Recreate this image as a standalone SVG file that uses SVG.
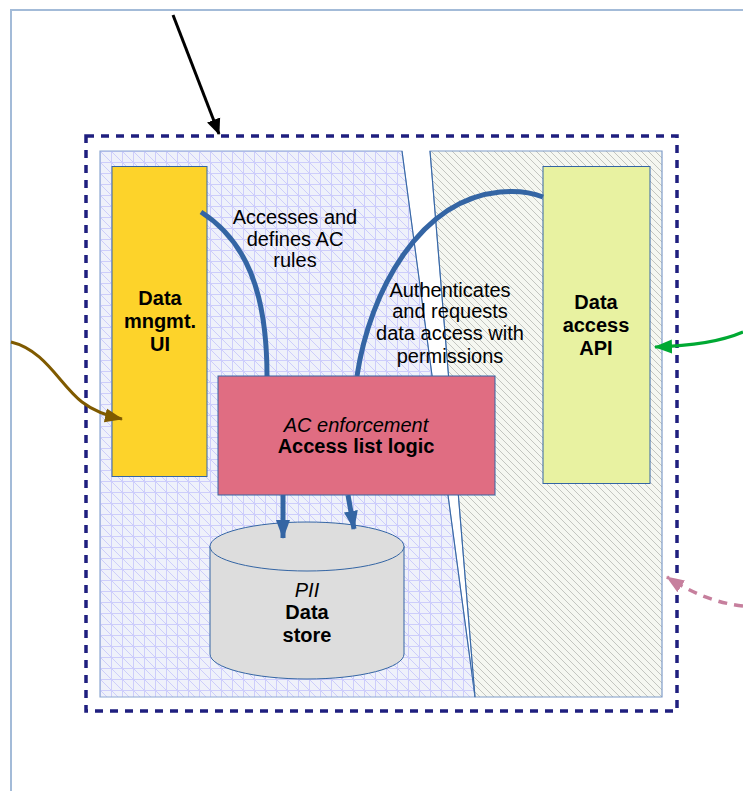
<svg xmlns="http://www.w3.org/2000/svg" width="743" height="791" viewBox="0 0 743 791">
<defs>
<style>
.t{font-family:"Liberation Sans",Arial,sans-serif;font-size:20px;fill:#000;text-anchor:middle}
.b{font-weight:bold}
.i{font-style:italic}
.box{stroke:#3465a4;stroke-width:1}
.flow{fill:none;stroke:#3465a4;stroke-width:5}
</style>
<pattern id="grid" patternUnits="userSpaceOnUse" x="100" y="151" width="11" height="11">
<rect width="11" height="11" fill="#eff1fa"/>
<path d="M0,0.5H11M0.5,0V11M0,0L11,11" stroke="#cdcdfb" stroke-width="1" fill="none"/>
</pattern>
<pattern id="hatch" patternUnits="userSpaceOnUse" width="7" height="7">
<rect width="7" height="7" fill="#f5f7f1"/>
<path d="M-1,-1L8,8M-4.5,2.5L-0.5,6.5M2.5,-4.5L6.5,-0.5" stroke="#c3c5c0" stroke-width="1" fill="none"/>
</pattern>
<marker id="ahBlue" markerUnits="userSpaceOnUse" markerWidth="19" markerHeight="16" refX="18" refY="8" orient="auto">
<path d="M0,1L19,8L0,15Z" fill="#3465a4"/>
</marker>
<marker id="ahBlack" markerUnits="userSpaceOnUse" markerWidth="16" markerHeight="16" refX="15" refY="8" orient="auto">
<path d="M0,1L16,8L0,15Z" fill="#000"/>
</marker>
<marker id="ahBrown" markerUnits="userSpaceOnUse" markerWidth="18" markerHeight="16" refX="17" refY="8" orient="auto">
<path d="M0,1L18,8L0,15Z" fill="#7f5a00"/>
</marker>
<marker id="ahGreen" markerUnits="userSpaceOnUse" markerWidth="18" markerHeight="16" refX="17" refY="8" orient="auto">
<path d="M0,1L18,8L0,15Z" fill="#00a933"/>
</marker>
<marker id="ahPink" markerUnits="userSpaceOnUse" markerWidth="18" markerHeight="16" refX="17" refY="8" orient="auto">
<path d="M0,1L18,8L0,15Z" fill="#c67f9d"/>
</marker>
</defs>
<rect width="743" height="791" fill="#fff"/>
<g id="outer-frame">
<path d="M11,791V10H743" fill="none" stroke="#a3bbd8" stroke-width="2"/>
</g>
<g id="boundary">
<rect x="86" y="136" width="591" height="575" fill="none" stroke="#1f1f7f" stroke-width="3.5" stroke-dasharray="8,7"/>
</g>
<g id="zone-left">
<polygon points="100,151 402,151 475,697 100,697" fill="url(#grid)" stroke="#8fa9d3" stroke-width="1.2"/>
<path d="M402,151L475,697" stroke="#3465a4" stroke-width="1" fill="none"/>
</g>
<g id="zone-right">
<polygon points="430,151 662,151 662,697 475,697" fill="url(#hatch)" stroke="#7f9cc8" stroke-width="1.2"/>
<path d="M430,151L475,697" stroke="#3465a4" stroke-width="1" fill="none"/>
</g>
<g id="data-mngmt-ui">
<rect class="box" x="112" y="166.5" width="95" height="310" fill="#fdd32a"/>
<text class="t b" x="160" y="305">Data</text>
<text class="t b" x="160" y="328">mngmt.</text>
<text class="t b" x="160" y="351">UI</text>
</g>
<g id="data-access-api">
<rect class="box" x="543" y="166.5" width="107" height="317" fill="#e8f2a1"/>
<text class="t b" x="596" y="309">Data</text>
<text class="t b" x="596" y="332">access</text>
<text class="t b" x="596" y="355">API</text>
</g>
<g id="data-store">
<path class="box" d="M210,546V654A97,25 0 0 0 404,654V546Z" fill="#dddddd"/>
<ellipse class="box" cx="307" cy="546.5" rx="97" ry="24.5" fill="#dddddd"/>
<text class="t i" x="307" y="597">PII</text>
<text class="t b" x="307" y="619">Data</text>
<text class="t b" x="307" y="642">store</text>
</g>
<g id="connectors">
<path class="flow" d="M201,212C245,240 267,290 267,376"/>
<path class="flow" d="M357,376C370,290 420,200 500,192C520,190 533,193 543,197"/>
<path class="flow" d="M283,495V538" marker-end="url(#ahBlue)"/>
<path class="flow" d="M348,495L354,529" marker-end="url(#ahBlue)"/>
<path d="M173,15L219,134" fill="none" stroke="#000" stroke-width="3" marker-end="url(#ahBlack)"/>
<path d="M11,342C45,350 60,385 82,402C95,412 108,416 122,419" fill="none" stroke="#7f5a00" stroke-width="3" marker-end="url(#ahBrown)"/>
<path d="M743,332C720,342 692,346 655,347" fill="none" stroke="#00a933" stroke-width="3" marker-end="url(#ahGreen)"/>
<path d="M743,606C715,603 690,592 667,577" fill="none" stroke="#c67f9d" stroke-width="3.5" stroke-dasharray="9,7" marker-end="url(#ahPink)"/>
</g>
<g id="ac-enforcement">
<rect class="box" x="218" y="376" width="277" height="119" fill="#e06d82"/>
<text class="t i" x="356" y="432">AC enforcement</text>
<text class="t b" x="356" y="453">Access list logic</text>
</g>
<g id="labels">
<text class="t" x="295" y="224">Accesses and</text>
<text class="t" x="295" y="246">defines AC</text>
<text class="t" x="295" y="267">rules</text>
<text class="t" x="450" y="297">Authenticates</text>
<text class="t" x="450" y="318">and requests</text>
<text class="t" x="450" y="340">data access with</text>
<text class="t" x="450" y="363">permissions</text>
</g>
</svg>
